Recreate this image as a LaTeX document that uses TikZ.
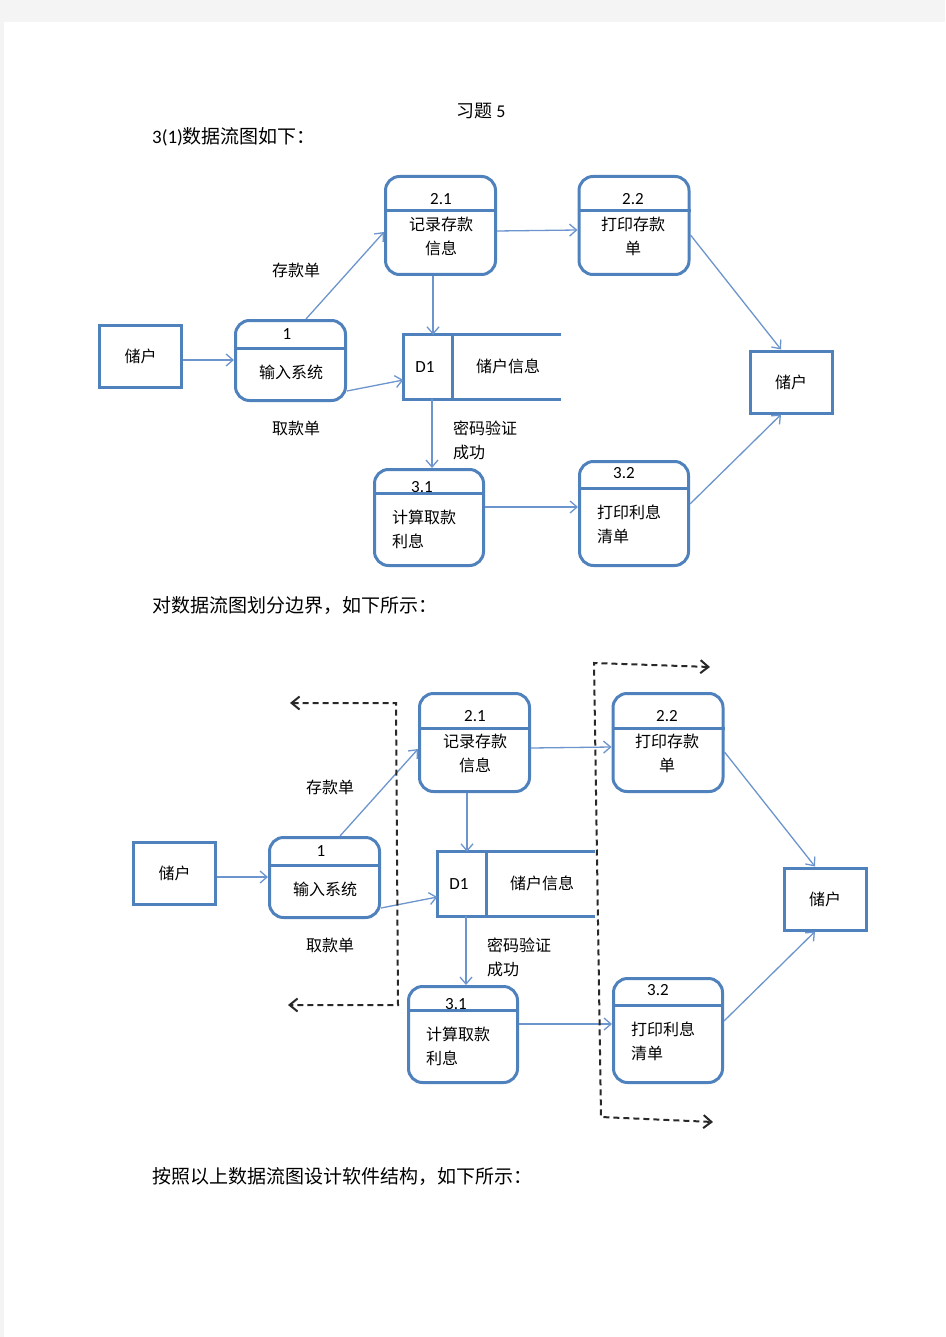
\documentclass[tikz,border=0pt]{standalone}
\usepackage{fontspec}
\setmainfont{Noto Sans CJK SC}
\newfontfamily\lat{Carlito}
\usetikzlibrary{arrows.meta,calc}
\definecolor{boxblue}{RGB}{79,129,189}
\definecolor{lineblue}{RGB}{108,148,205}
\definecolor{pagegray}{RGB}{244,244,244}
\definecolor{dashgray}{RGB}{40,40,40}
\tikzset{
  entity/.style={draw=boxblue, line width=3pt, minimum width=82pt, minimum height=62pt, inner sep=0pt, font=\fontsize{16}{24}\selectfont},
  proc/.style={draw=boxblue, line width=3pt, rounded corners=14pt, inner sep=0pt},
  divider/.style={draw=boxblue, line width=3pt},
  storebox/.style={inner sep=0pt, minimum width=157pt, minimum height=64pt},
  txt/.style={font=\fontsize{16}{24}\selectfont, inner sep=0pt, align=center},
  ltxt/.style={font=\fontsize{16}{24}\selectfont, inner sep=0pt, align=left, anchor=west},
  num/.style={font=\lat\fontsize{17}{20}\selectfont, inner sep=0pt},
  para/.style={font=\fontsize{19}{22}\selectfont, inner sep=0pt, anchor=west},
  flow/.style={draw=lineblue, line width=1.3pt, -{Straight Barb[length=7pt,width=12pt]}},
  bnd/.style={draw=dashgray, line width=2pt, dash pattern=on 6pt off 4pt,
    {Straight Barb[length=8pt,width=13pt]}-{Straight Barb[length=8pt,width=13pt]}}
}
\newcommand\dfdpic[1]{%
  % external entities
  \node[entity] (#1u1) at (140.5,356.5) {储户};
  \node[entity] (#1u2) at (791,382) {储户};
  % process 1
  \node[proc, minimum width=110pt, minimum height=80pt] (#1p1) at (290.5,360.5) {};
  \draw[divider] (#1p1.west |- 0,348) -- (#1p1.east |- 0,348);
  \node[num] (#1p1n) at (287,334) {1};
  \node[txt] (#1p1t) at (291,372) {输入系统};
  % process 2.1
  \node[proc, minimum width=110pt, minimum height=98pt] (#1b21) at (440.5,225.5) {};
  \draw[divider] (#1b21.west |- 0,211) -- (#1b21.east |- 0,211);
  \node[num] (#1b21n) at (441,199) {2.1};
  \node[txt] (#1b21t) at (441,236) {记录存款\\信息};
  % process 2.2
  \node[proc, minimum width=110pt, minimum height=98pt] (#1b22) at (634,225.5) {};
  \draw[divider] (#1b22.west |- 0,211) -- (#1b22.east |- 0,211);
  \node[num] (#1b22n) at (633,199) {2.2};
  \node[txt] (#1b22t) at (633,236) {打印存款\\单};
  % process 3.1
  \node[proc, minimum width=109pt, minimum height=96pt] (#1b31) at (429,517.5) {};
  \draw[divider] (#1b31.west |- 0,493) -- (#1b31.east |- 0,493);
  \node[num] (#1b31n) at (422,487) {3.1};
  \node[ltxt] (#1b31t) at (392,529) {计算取款\\利息};
  % process 3.2
  \node[proc, minimum width=109pt, minimum height=104pt] (#1b32) at (634,513.5) {};
  \draw[divider] (#1b32.west |- 0,488) -- (#1b32.east |- 0,488);
  \node[num] (#1b32n) at (624,473) {3.2};
  \node[ltxt] (#1b32t) at (597,524) {打印利息\\清单};
  % data store D1
  \node[storebox] (#1d1) at (482,367) {};
  \draw[divider] (#1d1.north east) -- (#1d1.north west) -- (#1d1.south west) -- (#1d1.south east);
  \draw[divider] (#1d1.north -| 452,0) -- (#1d1.south -| 452,0);
  \node[num] (#1d1n) at (425,367) {D1};
  \node[txt] (#1d1t) at (508,366) {储户信息};
  % labels
  \node[txt] (#1l1) at (296,270) {存款单};
  \node[txt] (#1l2) at (296,428) {取款单};
  \node[ltxt] (#1l3) at (453,440) {密码验证\\成功};
  % flows
  \draw[flow] (#1u1.east |- 0,360) -- (#1p1.west |- 0,360);
  \draw[flow] (#1p1.north -| 306,0) -- (#1b21.west |- 0,232);
  \draw[flow] (#1p1.east |- 0,391) -- (#1d1.west |- 0,380);
  \draw[flow] (#1b21.south -| 433,0) -- (#1d1.north -| 433,0);
  \draw[flow] (#1b21.east |- 0,231) -- (#1b22.west |- 0,230);
  \draw[flow] (#1b22.east |- 0,235) -- (#1u2.north -| 781,0);
  \draw[flow] (#1d1.south -| 432,0) -- (#1b31.north -| 432,0);
  \draw[flow] (#1b31.east |- 0,507) -- (#1b32.west |- 0,507);
  \draw[flow] (#1b32.east |- 0,504) -- (#1u2.south -| 781,0);
}
\begin{document}
\begin{tikzpicture}[x=1pt,y=-1pt]
  \useasboundingbox (0,0) rectangle (945,1337);
  \fill[pagegray] (0,0) rectangle (945,22);
  \fill[pagegray] (0,22) rectangle (4,1337);
  % texts
  \node[font=\fontsize{18}{22}\selectfont, inner sep=0pt] (title) at (481,111) {习题 {\lat 5}};
  \node[para] (h1) at (152,137) {{\lat 3(1)}数据流图如下：};
  \node[para] (h2) at (152,606) {对数据流图划分边界，如下所示：};
  \node[para] (h3) at (152,1176) {按照以上数据流图设计软件结构，如下所示：};
  % diagram 1
  \dfdpic{a}
  % diagram 2
  \begin{scope}[shift={(34,517)}]
    \dfdpic{b}
  \end{scope}
  % boundaries
  \coordinate (la) at (290,703);
  \coordinate (lb) at (396,703);
  \coordinate (lc) at (398,1005);
  \coordinate (ld) at (288,1005);
  \draw[bnd] (la) -- (lb) -- (lc) -- (ld);
  \coordinate (ra) at (710,667);
  \coordinate (rb) at (594,663);
  \coordinate (rc) at (601,1117);
  \coordinate (rd) at (713,1122);
  \draw[bnd] (ra) -- (rb) -- (rc) -- (rd);
\end{tikzpicture}
\end{document}
